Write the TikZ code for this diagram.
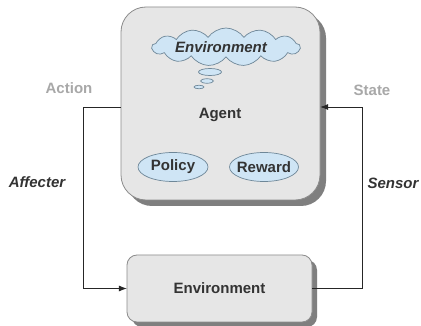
\documentclass[tikz,border=0pt]{standalone}
\usepackage{fontspec}
\setmainfont{Liberation Sans}
\usetikzlibrary{arrows.meta,shapes.symbols,shapes.geometric}
\definecolor{boxfill}{HTML}{E6E6E6}
\definecolor{boxline}{HTML}{8C8C8C}
\definecolor{shadowgray}{HTML}{7F7F7F}
\definecolor{bubblefill}{HTML}{CFE5F5}
\definecolor{bubbleline}{HTML}{6E8798}
\definecolor{inkgray}{HTML}{333333}
\definecolor{labelgray}{HTML}{A8A8A8}
\tikzset{
  txt/.style={font=\fontsize{15}{18}\selectfont\bfseries, text=inkgray},
  itxt/.style={font=\fontsize{15}{18}\selectfont\bfseries\itshape, text=inkgray},
  gtxt/.style={font=\fontsize{15}{18}\selectfont\bfseries, text=labelgray},
  panel/.style={draw=boxline, fill=boxfill, line width=0.8pt},
  shade/.style={fill=shadowgray},
  pill/.style={ellipse, draw=bubbleline, fill=bubblefill, line width=0.7pt, inner sep=0pt},
  link/.style={draw=black!85, line width=0.7pt},
  arr/.style={link, -{Latex[length=8pt,width=6pt]}},
}
\begin{document}
\begin{tikzpicture}[x=1pt,y=-1pt]
\useasboundingbox (0,0) rectangle (421,326);
\fill[white] (0,0) rectangle (421,326);

% agent panel with drop shadow
\fill[shade, rounded corners=25pt] (127,13) rectangle (326,206);
\draw[panel, rounded corners=25pt] (121,7) rectangle (320,200);
\node[inner sep=0pt, minimum width=199pt, minimum height=193pt] (agent) at (220.5,103.5) {};

% environment panel with drop shadow
\fill[shade, rounded corners=10pt] (132,260) rectangle (317,327);
\draw[panel, rounded corners=10pt] (127,255) rectangle (312,322);
\node[inner sep=0pt, minimum width=185pt, minimum height=67pt] (env) at (219.5,288.5) {};
\node[txt] (envtxt) at (env) {Environment};

% thought cloud and its trailing bubbles
\node[cloud, cloud puffs=13, cloud puff arc=110, aspect=4, draw=bubbleline, fill=bubblefill,
      line width=0.7pt, minimum width=148pt, minimum height=38pt, inner sep=0pt] (thought) at (226,47) {};
\node[itxt] (thoughttxt) at (221,47) {Environment};
\node[pill, minimum width=23pt, minimum height=7pt] (b1) at (210,72) {};
\node[pill, minimum width=13pt, minimum height=4.5pt] (b2) at (207,81) {};
\node[pill, minimum width=10pt, minimum height=3.5pt] (b3) at (199,87) {};

\node[txt] (agenttxt) at (220,115) {Agent};
\node[pill, minimum width=70pt, minimum height=29pt] (policy) at (173,167) {};
\node[txt] (policytxt) at (policy) {Policy};
\node[pill, minimum width=69pt, minimum height=29pt] (reward) at (264,167) {};
\node[txt] (rewardtxt) at (reward) {Reward};

% action loop on the left, sensing loop on the right
\coordinate (L) at (83,107);
\coordinate (R) at (362,107);
\draw[arr] (L -| agent.west) -- (L) |- (env.west);
\draw[arr] (env.east) -| (R) -- (R -| agent.east);

\node[gtxt] (action) at (69,88) {Action};
\node[gtxt] (state) at (372,90) {State};
\node[itxt] (affecter) at (37,182) {Affecter};
\node[itxt] (sensor) at (393,183) {Sensor};
\end{tikzpicture}
\end{document}
